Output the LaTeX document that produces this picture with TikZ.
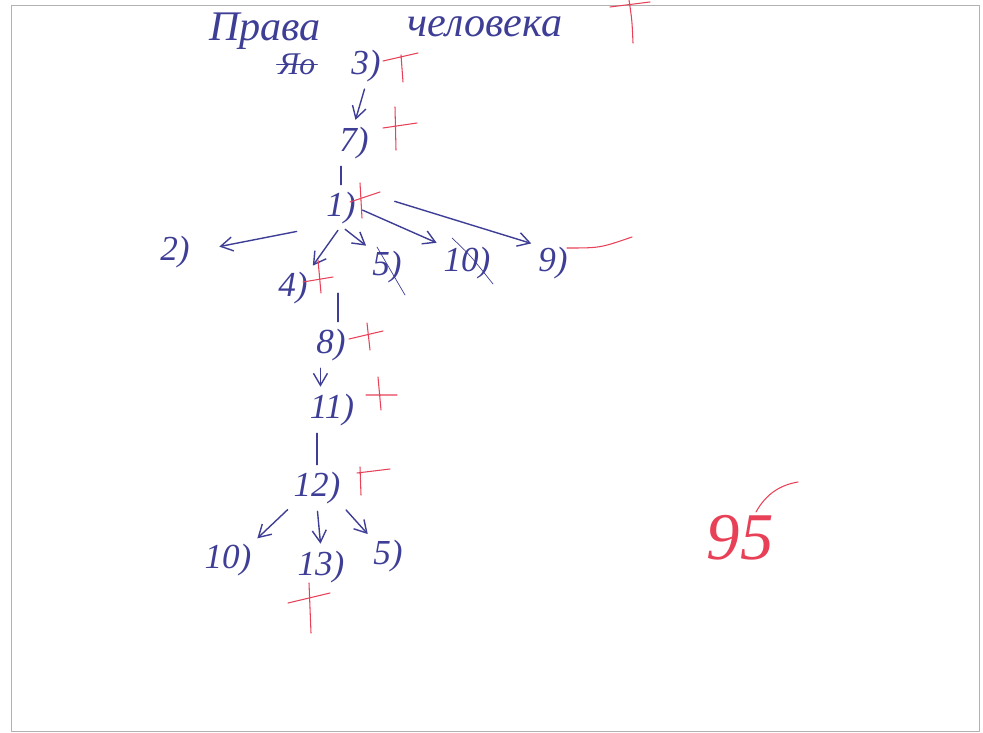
\documentclass[tikz,border=0pt]{standalone}
\usepackage{fontspec}
\setmainfont{Liberation Serif}
\usetikzlibrary{arrows.meta}
\definecolor{blueink}{RGB}{62,62,150}
\definecolor{redink}{RGB}{232,64,86}
\tikzset{sheet/.style={
  x=0.02cm,y=-0.02cm,
  >={Straight Barb[length=2.4mm,width=2.8mm]},line join=round,line cap=round
}}
\tikzset{
  item/.style={text=blueink,font=\fontsize{20}{22}\selectfont\itshape,inner sep=1pt},
  link/.style={blueink,thick,shorten >=3pt,shorten <=3pt},
  check/.style={redink,semithick}
}

\begin{document}
\begin{tikzpicture}[sheet]
  \useasboundingbox (0,0) rectangle (983,733);
  \draw[gray!60,thin] (11,5) rectangle (979,731);
  \node[item,font=\fontsize{24}{26}\selectfont\itshape] (head1) at (265,31) {Права};
  \node[item,font=\fontsize{24}{26}\selectfont\itshape] (head2) at (485,27) {человека};
  \node[item,font=\fontsize{18}{20}\selectfont\itshape] (n0) at (297,64) {Яо};
  \node[item] (n3) at (366,66) {3)};
  \node[item] (n7) at (354,143) {7)};
  \node[item] (n1) at (341,208) {1)};
  \node[item] (n2) at (175,252) {2)};
  \node[item] (n4) at (293,288) {4)};
  \node[item] (n5a) at (387,267) {5)};
  \node[item] (n10a) at (467,263) {10)};
  \node[item] (n9) at (553,263) {9)};
  \node[item] (n8) at (331,345) {8)};
  \node[item] (n11) at (332,410) {11)};
  \node[item] (n12) at (317,488) {12)};
  \node[item] (n10b) at (228,560) {10)};
  \node[item] (n13) at (321,567) {13)};
  \node[item] (n5b) at (388,556) {5)};
  \node[item,text=redink,font=\fontsize{38}{40}\selectfont\itshape] (score) at (740,538) {95};
  \draw[link,->] (n3.south) -- (n7.north);
  \draw[link] (n1.north) -- (n1.north |- n7.south);
  \draw[link,->,shorten <=16pt,shorten >=16pt] (n1.south west) -- (n2.east);
  \draw[link,->] (n1.south) -- (n4.north east);
  \draw[link,->] (n1.south) -- (n5a.north west);
  \draw[link,->] (n1.east) -- (n10a.north west);
  \draw[link,->,shorten <=22pt] (n1.north east) -- (n9.north west);
  \draw[link] ([xshift=4pt]n8.north) -- ([xshift=4pt]n8.north |- n4.center);
  \draw[link,->] ([xshift=-6pt]n8.south) -- ([xshift=-6pt]n8.south |- n11.north);
  \draw[link] (n12.north) -- (n12.north |- n11.south);
  \draw[link,->] (n12.south west) -- (n10b.north east);
  \draw[link,->] (n12.south) -- (n13.north);
  \draw[link,->] (n12.south east) -- (n5b.north west);
  \draw[blueink] (n0.west) -- (n0.east);
  \draw[blueink] (377,247) -- (405,295);
  \draw[blueink] (452,238) .. controls (470,255) .. (493,284);
  \draw[check] (610,7) -- (650,2) (629,0) .. controls (632,20) .. (633,43);
  \draw[check] (383,61) -- (418,53) (401,55) -- (403,82);
  \draw[check] (383,128) -- (417,123) (395,107) -- (396,150);
  \draw[check] (350,202) -- (380,192) (360,183) -- (362,218);
  \draw[check] (303,282) -- (333,277) (318,260) -- (321,293);
  \draw[check] (567,248) .. controls (600,248) .. (632,237);
  \draw[check] (349,339) -- (383,331) (367,323) -- (370,350);
  \draw[check] (366,395) -- (397,395) (378,377) -- (381,410);
  \draw[check] (357,473) -- (390,469) (360,467) -- (361,495);
  \draw[check] (288,603) -- (330,593) (309,583) -- (311,633);
  \draw[check] (756,512) .. controls (766,494) and (780,485) .. (798,482);
\end{tikzpicture}
\end{document}
